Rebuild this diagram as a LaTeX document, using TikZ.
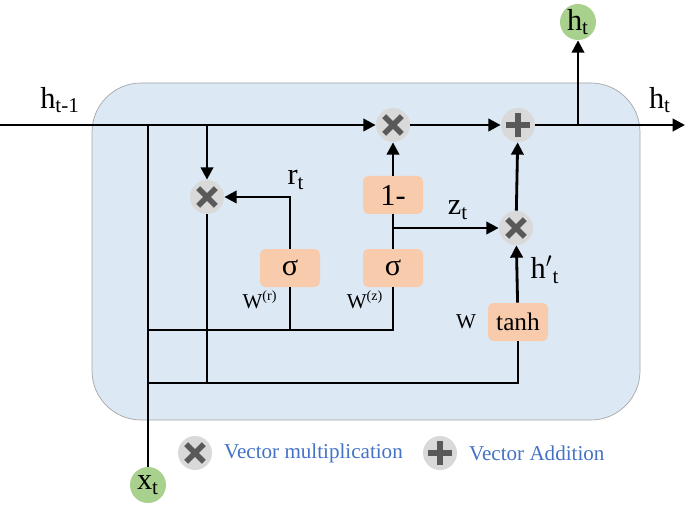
\documentclass[tikz,border=0pt]{standalone}
\usepackage{fontspec}
\setmainfont{Liberation Serif}
\usetikzlibrary{arrows.meta}
\definecolor{cellblue}{HTML}{DCE8F4}
\definecolor{gatebox}{HTML}{F8CBAD}
\definecolor{opgray}{HTML}{D9D9D9}
\definecolor{inout}{HTML}{A9D18E}
\definecolor{legtext}{HTML}{4472C4}
\newcommand{\unitpx}{*0.02cm}
\tikzset{
  op/.style={circle,fill=opgray,minimum size=34\unitpx,inner sep=0pt},
  mul/.style={op,path picture={\draw[line width=3.2pt,black!65]
      ([shift={(-5pt,-5pt)}]path picture bounding box.center) -- ([shift={(5pt,5pt)}]path picture bounding box.center)
      ([shift={(-5pt,5pt)}]path picture bounding box.center) -- ([shift={(5pt,-5pt)}]path picture bounding box.center);}},
  add/.style={op,path picture={\draw[line width=3.2pt,black!65]
      ([shift={(-7pt,0pt)}]path picture bounding box.center) -- ([shift={(7pt,0pt)}]path picture bounding box.center)
      ([shift={(0pt,-7pt)}]path picture bounding box.center) -- ([shift={(0pt,7pt)}]path picture bounding box.center);}},
  gate/.style={rounded corners=3pt,fill=gatebox,minimum width=60\unitpx,minimum height=38\unitpx,font=\LARGE},
  io/.style={circle,fill=inout,minimum size=36\unitpx,inner sep=0pt,font=\LARGE},
  flow/.style={line width=1.6pt,-{Triangle[length=7pt,width=7pt]}},
  wire/.style={line width=1.6pt}
}
\begin{document}
\begin{tikzpicture}[x=0.02cm,y=-0.02cm]
\useasboundingbox (0,0) rectangle (685,506);

% cell
\draw[fill=cellblue,draw=black!35,rounded corners=28pt] (92,83) rectangle (640,420);

% operators
\node[mul] (mulA) at (393,125) {};
\node[add] (add) at (518,125) {};
\node[mul] (mulR) at (207,197) {};
\node[mul] (mulZ) at (516,228) {};

% gates
\node[gate] (one) at (393,195) {1-};
\node[gate] (sigR) at (290,268) {σ};
\node[gate] (sigZ) at (393,268) {σ};
\node[gate,font=\Large] (tanh) at (518,322) {tanh};

% inputs / outputs
\node[io] (ht) at (578,22) {h\textsubscript{t}};
\node[io] (xt) at (148,485) {x\textsubscript{t}};
\coordinate (in) at (0,125);
\coordinate (out) at (685,125);
\coordinate (split) at (578,125);
\coordinate (hA) at (148,125);
\coordinate (hB) at (207,125);
\coordinate (rc) at (290,197);
\coordinate (zc) at (393,228);
\coordinate (bA) at (148,330);
\coordinate (bR) at (290,330);
\coordinate (bZ) at (393,330);
\coordinate (cA) at (148,383);
\coordinate (cR) at (207,383);
\coordinate (cT) at (518,383);

% connectors
\draw[flow] (in) -- (mulA);
\draw[flow] (mulA) -- (add);
\draw[flow] (add) -- (out);
\draw[flow] (split) -- (ht);
\draw[wire] (xt) -- (hA);
\draw[flow] (hB) -- (mulR);
\draw[flow] (sigR) -- (rc) -- (mulR);
\draw[wire] (sigZ) -- (one);
\draw[flow] (one) -- (mulA);
\draw[flow] (zc) -- (mulZ);
\draw[flow] (mulZ) -- (add);
\draw[flow] (tanh) -- (mulZ);
\draw[wire] (bA) -- (bZ) -- (sigZ);
\draw[wire] (bR) -- (sigR);
\draw[wire] (cA) -- (cT) -- (tanh);
\draw[wire] (mulR) -- (cR);

% labels
\node[font=\LARGE] (lhin) at (60,100) {h\textsubscript{t-1}};
\node[font=\LARGE] (lhout) at (660,100) {h\textsubscript{t}};
\node[font=\LARGE] (lr) at (296,180) {r\textsubscript{t}};
\node[font=\LARGE] (lz) at (458,210) {z\textsubscript{t}};
\node[font=\LARGE] (lh) at (545,270) {h$'$\textsubscript{t}};
\node[font=\large] (lwr) at (260,300) {W\textsuperscript{(r)}};
\node[font=\large] (lwz) at (365,300) {W\textsuperscript{(z)}};
\node[font=\large] (lw) at (466,322) {W};

% legend
\node[mul] (legM) at (195,453) {};
\node[anchor=west,text=legtext,font=\large] (legMt) at (218,453) {Vector multiplication};
\node[add] (legA) at (440,453) {};
\node[anchor=west,text=legtext,font=\large] (legAt) at (463,453) {Vector Addition};
\end{tikzpicture}
\end{document}
